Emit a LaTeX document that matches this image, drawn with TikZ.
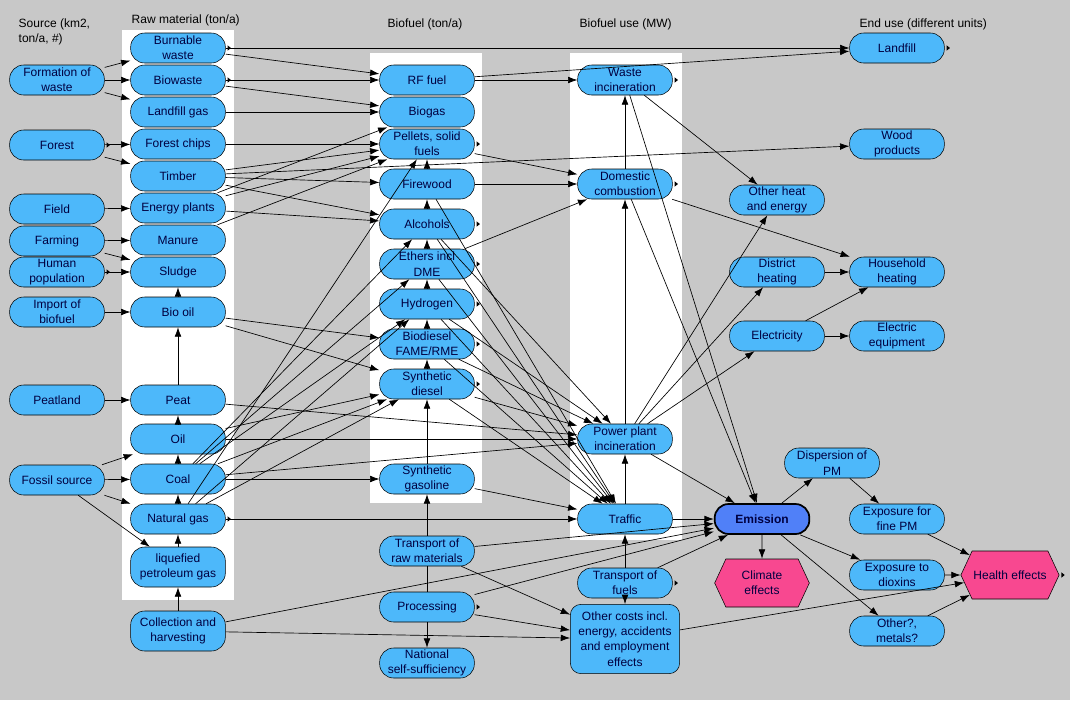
\documentclass[tikz,border=0pt]{standalone}
\usepackage{fontspec}
\setmainfont{Liberation Sans}
\usetikzlibrary{arrows.meta,shapes.symbols}
\definecolor{bg}{HTML}{C8C8C8}
\definecolor{nb}{HTML}{4DB8FA}
\definecolor{em}{HTML}{5080F8}
\definecolor{pk}{HTML}{F84890}
\definecolor{tx}{HTML}{000040}
\begin{document}
\begin{tikzpicture}[x=0.75pt,y=-0.75pt,font=\fontsize{9}{11.5}\selectfont,
 n/.style={draw=black,fill=nb,text=tx,rounded corners=10.5pt,minimum width=71pt,minimum height=22.5pt,inner sep=0.5pt,align=center},
 tall/.style={n,minimum height=30pt},
 hx/.style={draw=black,fill=pk,text=tx,shape=signal,signal to=east and west,signal pointer angle=130,minimum width=71pt,minimum height=36pt,align=center,inner sep=1pt},
 a/.style={-{Latex[length=7pt,width=5pt]},line width=0.5pt},
 hd/.style={text=black,align=left,anchor=north west}]
\fill[bg] (0,0) rectangle (1070,700);
\useasboundingbox (0,0) rectangle (1070,700);
\fill[white] (122,30) rectangle (234,600);
\fill[white] (370,53) rectangle (482,503);
\fill[white] (570,53) rectangle (682,540);
\node[hd] (h1) at (14,14) {Source (km2,\\ton/a, \#)};
\node[hd] (h2) at (127,10) {Raw material (ton/a)};
\node[hd] (h3) at (383,14) {Biofuel (ton/a)};
\node[hd] (h4) at (575,14) {Biofuel use (MW)};
\node[hd] (h5) at (855,14) {End use (different units)};
% sources
\node[n] (fw) at (57,80) {Formation of\\waste};
\node[n] (fo) at (57,145) {Forest};
\node[n] (fi) at (57,209) {Field};
\node[n] (fa) at (57,241) {Farming};
\node[n] (hp) at (57,272) {Human\\population};
\node[n] (ib) at (57,312) {Import of\\biofuel};
\node[n] (pl) at (57,400) {Peatland};
\node[n] (fs) at (57,480) {Fossil source};
% raw
\node[n] (bw) at (178,48) {Burnable\\waste};
\node[n] (bi) at (178,80) {Biowaste};
\node[n] (lg) at (178,112) {Landfill gas};
\node[n] (fc) at (178,144) {Forest chips};
\node[n] (ti) at (178,176) {Timber};
\node[n] (ep) at (178,208) {Energy plants};
\node[n] (ma) at (178,240) {Manure};
\node[n] (sl) at (178,272) {Sludge};
\node[n] (bo) at (178,312) {Bio oil};
\node[n] (pe) at (178,400) {Peat};
\node[n] (oi) at (178,439) {Oil};
\node[n] (co) at (178,479) {Coal};
\node[n] (ng) at (178,519) {Natural gas};
\node[tall] (lp) at (178,567) {liquefied\\petroleum gas};
\node[tall] (ch) at (178,631) {Collection and\\harvesting};
% biofuel
\node[n] (rf) at (427,80) {RF fuel};
\node[n] (bg) at (427,112) {Biogas};
\node[n] (ps) at (427,144) {Pellets, solid\\fuels};
\node[n] (fw2) at (427,184) {Firewood};
\node[n] (al) at (427,224) {Alcohols};
\node[n] (et) at (427,264) {Ethers incl\\DME};
\node[n] (hy) at (427,304) {Hydrogen};
\node[n] (bd) at (427,344) {Biodiesel\\FAME/RME};
\node[n] (sd) at (427,384) {Synthetic\\diesel};
\node[n] (sg) at (427,479) {Synthetic\\gasoline};
\node[n] (tr) at (427,551) {Transport of\\raw materials};
\node[n] (pr) at (427,607) {Processing};
\node[n] (ns) at (427,663) {National\\self-sufficiency};
% use
\node[n] (wi) at (625,80) {Waste\\incineration};
\node[n] (dc) at (625,184) {Domestic\\combustion};
\node[n] (pp) at (625,439) {Power plant\\incineration};
\node[n] (tf) at (625,519) {Traffic};
\node[n] (tfu) at (625,583) {Transport of\\fuels};
\node[n,rounded corners=8pt,minimum width=82pt,minimum height=52pt] (oc) at (625,639) {Other costs incl.\\energy, accidents\\and employment\\effects};
% right
\node[n] (oh) at (777,200) {Other heat\\and energy};
\node[n] (dh) at (777,272) {District\\heating};
\node[n] (el) at (777,336) {Electricity};
\node[n] (lf) at (897,48) {Landfill};
\node[n] (wp) at (897,144) {Wood\\products};
\node[n] (hh) at (897,272) {Household\\heating};
\node[n] (ee) at (897,336) {Electric\\equipment};
\node[n,fill=em,line width=1.3pt,font=\fontsize{9}{11.5}\selectfont\bfseries] (emi) at (762,519) {Emission};
\node[hx] (cl) at (762,583) {Climate\\effects};
\node[n] (dp) at (832,463) {Dispersion of\\PM};
\node[n] (ef) at (897,519) {Exposure for\\fine PM};
\node[n] (ed) at (897,575) {Exposure to\\dioxins};
\node[n] (om) at (897,631) {Other?,\\metals?};
\node[hx,minimum width=67pt] (he) at (1010,575) {Health effects};
% source -> raw
\foreach \s/\t in {fw/bw,fw/bi,fw/lg,fo/fc,fo/ti,fi/ep,fa/ma,fa/sl,hp/sl,ib/bo,pl/pe,fs/oi,fs/co,fs/ng,fs/lp,
  ch/lp,lp/ng,ng/co,co/oi,oi/pe,pe/bo,bo/sl}
  \draw[a] (\s) -- (\t);
% raw -> biofuel
\foreach \s/\t in {bw/rf,bw/lf,bi/rf,bi/bg,lg/bg,fc/ps,ti/ps,ti/fw2,ti/al,ti/wp,ep/ps,ep/al,ep/bg,ma/ps,
  bo/bd,bo/sd,pe/pp,oi/pp,oi/sd,co/sg,co/pp,co/sd,co/hy,co/et,co/al,ng/tf,ng/sd,ng/hy,ng/ps,
  sg/sd,sd/bd,bd/hy,hy/et,et/al,al/fw2,fw2/ps,tr/sg,pr/ns}
  \draw[a] (\s) -- (\t);
\draw (tr) -- (pr);
% biofuel -> use
\foreach \s/\t in {rf/wi,rf/lf,ps/dc,fw2/dc,et/dc,fw2/tf,al/pp,al/tf,et/tf,hy/tf,bd/tf,sd/tf,sd/pp,sg/tf,bd/pp,hy/pp,
  tf/pp,pp/dc,dc/wi,wi/oh,wi/emi,dc/hh,dc/emi,pp/oh,pp/dh,pp/el,pp/emi,dh/hh,el/hh,el/ee,
  tf/emi,tfu/tf,tfu/oc,tfu/emi,tr/emi,tr/oc,pr/emi,pr/oc,ch/emi,ch/oc,oc/he,
  emi/cl,emi/dp,emi/ed,emi/om,dp/ef,ef/he,ed/he,om/he}
  \draw[a] (\s) -- (\t);
% output marks
\foreach \m in {bw,bi,fo,hp,ps,al,et,hy,bd,sd,wi,dc,ng,pr,tfu,lf,he}
  \fill (\m.east) ++(1.5pt,-2pt) -- ++(2.5pt,2pt) -- ++(-2.5pt,2pt) -- cycle;
\end{tikzpicture}
\end{document}
